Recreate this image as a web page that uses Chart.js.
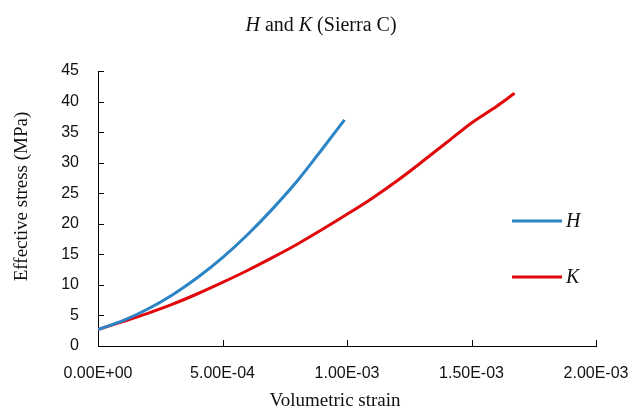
<!DOCTYPE html>
<html>
<head>
<meta charset="utf-8">
<script src="https://cdn.jsdelivr.net/npm/chart.js@4.4.1/dist/chart.umd.min.js"></script>
<style>
  html, body { margin: 0; padding: 0; background: #fff; }
  #wrap { width: 642px; height: 412px; }
</style>
</head>
<body>
<div id="wrap"><canvas id="grafico"></canvas></div>
<script>
// ---------------- dados ----------------
const seriesNames = ["H", "K"];

const hStrain = [0, 1e-4, 2e-4, 3e-4, 4e-4, 5e-4, 6e-4, 7e-4, 8e-4, 9e-4, 9.9e-4];
const hStress = [2.7, 4.15, 6.05, 8.4, 11.2, 14.45, 18.2, 22.4, 27.0, 32.2, 37.0];

const kStrain = [0, 1e-4, 2e-4, 3e-4, 4e-4, 5e-4, 6e-4, 7e-4, 8e-4, 9e-4,
  1.0e-3, 1.1e-3, 1.2e-3, 1.3e-3, 1.4e-3, 1.5e-3, 1.6e-3, 1.673e-3];
const kStress = [2.7, 4.0, 5.35, 6.85, 8.55, 10.4, 12.35, 14.45, 16.65, 19.05,
  21.55, 24.15, 27.0, 30.1, 33.3, 36.5, 39.2, 41.35];

const xTicks = [0, 5e-4, 1e-3, 1.5e-3, 2e-3];
const yTicks = [0, 5, 10, 15, 20, 25, 30, 35, 40, 45];

const xTitle = "Volumetric strain";
const yTitle = "Effective stress (MPa)";

// ---------------- estilo ----------------
const colors = { H: "#2a84c6", K: "#e0080a", axis: "#000", text: "#111" };
const serif = "'Liberation Serif', 'Times New Roman', serif";
const sans = "'Liberation Sans', Arial, sans-serif";

function toPoints(xs, ys) {
  return xs.map((x, i) => ({ x: x, y: ys[i] }));
}

// 5.00E-04 style labels
function formatExp(v) {
  const [m, e] = v.toExponential(2).split("e");
  const n = parseInt(e, 10);
  const sign = n < 0 ? "-" : "+";
  return m + "E" + sign + String(Math.abs(n)).padStart(2, "0");
}

// tick marks pointing into the plot
const innerTicks = {
  id: "innerTicks",
  afterDraw(chart) {
    const { ctx, chartArea, scales } = chart;
    ctx.save();
    ctx.strokeStyle = colors.axis;
    ctx.lineWidth = 1;
    ctx.beginPath();
    scales.x.ticks.forEach((t, i) => {
      const px = Math.round(scales.x.getPixelForTick(i)) + 0.5;
      ctx.moveTo(px, chartArea.bottom);
      ctx.lineTo(px, chartArea.bottom - 6);
    });
    scales.y.ticks.forEach((t, i) => {
      const py = Math.round(scales.y.getPixelForTick(i)) + 0.5;
      ctx.moveTo(chartArea.left, py);
      ctx.lineTo(chartArea.left + 6, py);
    });
    ctx.stroke();
    ctx.restore();
  },
};

// titulo com H e K em italico + titulos dos eixos
const titles = {
  id: "titles",
  afterDraw(chart) {
    const { ctx, chartArea } = chart;
    const parts = [
      { t: "H", it: true }, { t: " and ", it: false },
      { t: "K", it: true }, { t: " (Sierra C)", it: false },
    ];
    ctx.save();
    ctx.fillStyle = colors.text;
    ctx.textBaseline = "alphabetic";
    const fontOf = (p) => (p.it ? "italic " : "") + "20px " + serif;
    let total = 0;
    parts.forEach((p) => { ctx.font = fontOf(p); total += ctx.measureText(p.t).width; });
    let x = 321 - total / 2;
    parts.forEach((p) => {
      ctx.font = fontOf(p);
      ctx.fillText(p.t, x, 31);
      x += ctx.measureText(p.t).width;
    });

    ctx.font = "19px " + serif;
    ctx.textAlign = "center";
    ctx.textBaseline = "middle";
    const midX = (chartArea.left + chartArea.right) / 2 - 12;
    const midY = (chartArea.top + chartArea.bottom) / 2 - 12;
    ctx.fillText(xTitle, midX, 401);
    ctx.translate(22, midY);
    ctx.rotate(-Math.PI / 2);
    ctx.fillText(yTitle, 0, 0);
    ctx.restore();
  },
};

// legenda dentro da area do grafico
const sideLegend = {
  id: "sideLegend",
  afterDraw(chart) {
    const { ctx } = chart;
    const rows = [221, 277];
    ctx.save();
    chart.data.datasets.forEach((ds, i) => {
      const y = rows[i];
      ctx.strokeStyle = ds.borderColor;
      ctx.lineWidth = 3;
      ctx.beginPath();
      ctx.moveTo(512, y);
      ctx.lineTo(562, y);
      ctx.stroke();
      ctx.fillStyle = colors.text;
      ctx.font = "italic 20px " + serif;
      ctx.textBaseline = "middle";
      ctx.fillText(ds.label, 566, y + 1);
    });
    ctx.restore();
  },
};

new Chart(document.getElementById("grafico"), {
  type: "scatter",
  data: {
    datasets: [
      {
        label: seriesNames[0],
        data: toPoints(hStrain, hStress),
        showLine: true,
        borderColor: colors.H,
        borderWidth: 3,
        pointRadius: 0,
        cubicInterpolationMode: "monotone",
      },
      {
        label: seriesNames[1],
        data: toPoints(kStrain, kStress),
        showLine: true,
        borderColor: colors.K,
        borderWidth: 3,
        pointRadius: 0,
        cubicInterpolationMode: "monotone",
      },
    ],
  },
  options: {
    responsive: true,
    maintainAspectRatio: false,
    animation: false,
    layout: { padding: { top: 71, right: 46, left: 0, bottom: 0 } },
    plugins: {
      legend: { display: false },
      title: { display: false },
      tooltip: { enabled: false },
    },
    scales: {
      x: {
        type: "linear",
        min: xTicks[0],
        max: xTicks[xTicks.length - 1],
        afterBuildTicks: (s) => { s.ticks = xTicks.map((v) => ({ value: v })); },
        afterFit: (s) => {
          s.height = 66;
          // os rotulos cabem na margem; nao deixar o eixo encolher
          s.paddingLeft = 0;
          s.paddingRight = 0;
        },
        grid: { display: false, drawTicks: false },
        border: { display: true, color: colors.axis, width: 1 },
        ticks: {
          color: colors.text,
          font: { family: sans, size: 16 },
          padding: 18,
          maxRotation: 0,
          callback: (v) => formatExp(v),
        },
      },
      y: {
        min: yTicks[0],
        max: yTicks[yTicks.length - 1],
        afterBuildTicks: (s) => { s.ticks = yTicks.map((v) => ({ value: v })); },
        afterFit: (s) => { s.width = 98; },
        grid: { display: false, drawTicks: false },
        border: { display: true, color: colors.axis, width: 1 },
        ticks: {
          color: colors.text,
          font: { family: sans, size: 16 },
          padding: 19,
        },
      },
    },
  },
  plugins: [innerTicks, titles, sideLegend],
});
</script>
</body>
</html>
